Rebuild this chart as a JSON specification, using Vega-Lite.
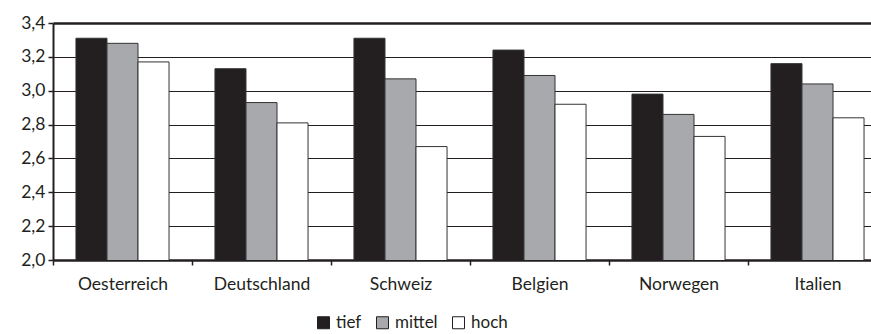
{
  "$schema": "https://vega.github.io/schema/vega-lite/v6.json",
  "autosize": {"type": "none"},
  "width": 818,
  "height": 237,
  "padding": {"left": 53, "top": 23, "right": 0, "bottom": 74},
  "background": "#ffffff",
  "data": {
    "values": [
      {"land": "Oesterreich", "niveau": "tief", "wert": 3.31},
      {"land": "Oesterreich", "niveau": "mittel", "wert": 3.28},
      {"land": "Oesterreich", "niveau": "hoch", "wert": 3.17},
      {"land": "Deutschland", "niveau": "tief", "wert": 3.13},
      {"land": "Deutschland", "niveau": "mittel", "wert": 2.93},
      {"land": "Deutschland", "niveau": "hoch", "wert": 2.81},
      {"land": "Schweiz", "niveau": "tief", "wert": 3.31},
      {"land": "Schweiz", "niveau": "mittel", "wert": 3.07},
      {"land": "Schweiz", "niveau": "hoch", "wert": 2.67},
      {"land": "Belgien", "niveau": "tief", "wert": 3.24},
      {"land": "Belgien", "niveau": "mittel", "wert": 3.09},
      {"land": "Belgien", "niveau": "hoch", "wert": 2.92},
      {"land": "Norwegen", "niveau": "tief", "wert": 2.98},
      {"land": "Norwegen", "niveau": "mittel", "wert": 2.86},
      {"land": "Norwegen", "niveau": "hoch", "wert": 2.73},
      {"land": "Italien", "niveau": "tief", "wert": 3.16},
      {"land": "Italien", "niveau": "mittel", "wert": 3.04},
      {"land": "Italien", "niveau": "hoch", "wert": 2.84}
    ]
  },
  "mark": {"type": "bar", "stroke": "#333333", "strokeWidth": 1, "clip": true},
  "encoding": {
    "x": {
      "field": "land",
      "type": "nominal",
      "sort": ["Oesterreich", "Deutschland", "Schweiz", "Belgien", "Norwegen", "Italien"],
      "scale": {"range": [0, 834], "paddingInner": 0, "paddingOuter": 0},
      "axis": {
        "title": null,
        "labelAngle": 0,
        "tickBand": "extent",
        "tickSize": 5,
        "tickColor": "#231f20",
        "tickWidth": 1.5,
        "domainColor": "#231f20",
        "domainWidth": 2.5,
        "labelPadding": 10,
        "labelFont": "Lato",
        "labelFontSize": 17.5,
        "labelColor": "#231f20",
        "grid": false
      }
    },
    "xOffset": {
      "field": "niveau",
      "type": "nominal",
      "sort": ["tief", "mittel", "hoch"],
      "scale": {"paddingInner": 0, "paddingOuter": 0.74}
    },
    "y": {
      "field": "wert",
      "type": "quantitative",
      "scale": {"domain": [2.0, 3.4], "zero": false, "nice": false},
      "axis": {
        "title": null,
        "values": [2.0, 2.2, 2.4, 2.6, 2.8, 3.0, 3.2, 3.4],
        "labelExpr": "replace(format(datum.value, '.1f'), '.', ',')",
        "tickSize": 5,
        "tickColor": "#231f20",
        "tickWidth": 1.5,
        "domainColor": "#231f20",
        "domainWidth": 2,
        "labelPadding": 3,
        "labelFont": "Lato",
        "labelFontSize": 17.5,
        "labelColor": "#231f20",
        "grid": true,
        "gridColor": "#231f20",
        "gridOpacity": 1,
        "gridWidth": {"condition": {"test": "datum.value >= 3.4", "value": 2.5}, "value": 1.2}
      }
    },
    "fill": {
      "field": "niveau",
      "type": "nominal",
      "sort": ["tief", "mittel", "hoch"],
      "scale": {"domain": ["tief", "mittel", "hoch"], "range": ["#231f20", "#a7a9ac", "#ffffff"]},
      "legend": {
        "title": null,
        "orient": "none",
        "direction": "horizontal",
        "legendX": 262,
        "legendY": 291,
        "symbolType": "square",
        "symbolSize": 144,
        "symbolStrokeColor": "#231f20",
        "symbolStrokeWidth": 1,
        "symbolOpacity": 1,
        "labelFont": "Lato",
        "labelFontSize": 17,
        "labelColor": "#231f20",
        "labelOffset": 4,
        "columnPadding": 12
      }
    }
  },
  "config": {
    "view": {"stroke": null},
    "font": "Lato"
  }
}
